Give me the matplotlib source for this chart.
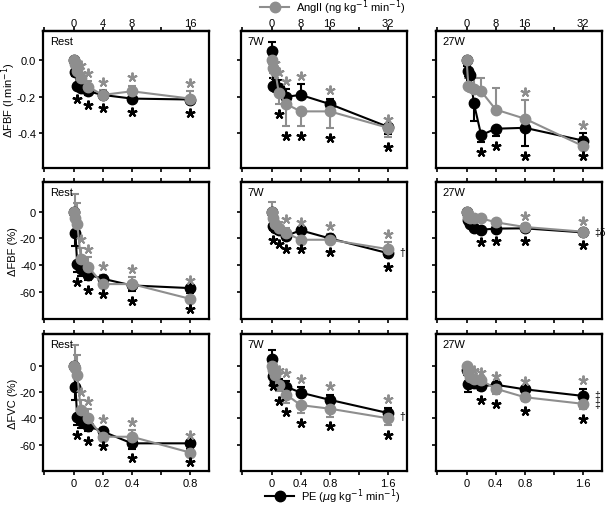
import numpy as np
import matplotlib.pyplot as plt
from matplotlib.lines import Line2D
import matplotlib.transforms as mtransforms

plt.rcParams['font.family'] = ['Liberation Sans', 'DejaVu Sans']
plt.rcParams['font.size'] = 8

GRAY = '#8e8e8e'
BLACK = '#000000'

# doses (AngII ng/kg/min); PE doses are AngII / 20
ang_doses_rest = [0, 0.25, 0.5, 1, 2, 4, 8, 16]
ang_doses_w = [0, 0.5, 1, 2, 4, 8, 16, 32]
pe_doses_rest = [d / 20 for d in ang_doses_rest]
pe_doses_w = [d / 20 for d in ang_doses_w]

groups = ["Rest", "7W", "27W"]
ylabels = ["\u0394FBF (l min$^{-1}$)", "\u0394FBF (%)", "\u0394FVC (%)"]

# ---- means (signed errors: + bar up, - bar down) ----
# row 0: dFBF (l/min)
fbf_ang_rest = [0, -0.02, -0.06, -0.10, -0.145, -0.19, -0.17, -0.21]
fbf_ang_rest_err = [0.01, 0.03, 0.03, 0.03, 0.03, 0.025, 0.03, 0.04]
fbf_pe_rest = [0, -0.065, -0.14, -0.15, -0.17, -0.19, -0.21, -0.215]
fbf_pe_rest_err = [-0.01, -0.02, -0.02, -0.02, -0.02, -0.02, -0.02, -0.02]

fbf_ang_7w = [0.0, -0.04, -0.06, -0.18, -0.24, -0.28, -0.28, -0.37]
fbf_ang_7w_err = [-0.02, -0.03, -0.04, -0.06, -0.12, -0.08, -0.09, -0.05]
fbf_pe_7w = [0.05, -0.14, -0.145, -0.15, -0.20, -0.19, -0.24, -0.365]
fbf_pe_7w_err = [0.05, 0.04, 0.04, 0.04, 0.04, 0.06, 0.03, -0.04]

fbf_ang_27w = [0.0, -0.14, -0.145, -0.155, -0.17, -0.27, -0.32, -0.47]
fbf_ang_27w_err = [0.02, 0.04, 0.05, 0.06, 0.075, 0.12, 0.10, 0.05]
fbf_pe_27w = [0.0, -0.06, -0.08, -0.235, -0.41, -0.375, -0.37, -0.44]
fbf_pe_27w_err = [-0.03, -0.03, -0.03, -0.10, -0.04, -0.04, -0.10, 0.04]

# row 1: dFBF (%)
fbfp_ang_rest = [0, -5, -9, -35, -41, -54, -54, -65]
fbfp_ang_rest_err = [2, 18, 15, 8, 7, 7, 5, 5]
fbfp_pe_rest = [0, -16, -39, -43, -47, -50, -55, -57]
fbfp_pe_rest_err = [-2, -10, -6, -5, -4, -4, -4, -4]

fbfp_ang_7w = [0, -5, -9, -12, -16, -21, -21, -28]
fbfp_ang_7w_err = [7, 3, 3, 4, 4, 4, 4, 5]
fbfp_pe_7w = [0, -11, -12, -14, -18, -14, -20, -31]
fbfp_pe_7w_err = [-3, -3, -3, -3, -3, -3, -3, -3]

fbfp_ang_27w = [0, -4, -5, -5, -5, -8, -11.5, -15]
fbfp_ang_27w_err = [2, 2, 2, 2, 2, 2, 2, 2]
fbfp_pe_27w = [0, -6, -9, -12, -13.5, -12.7, -12.5, -15.5]
fbfp_pe_27w_err = [-2, -2, -2, -2, -2, -2, -2, -2]

# row 2: dFVC (%)
fvc_ang_rest = [0, -2, -7, -34, -40, -54, -54, -66]
fvc_ang_rest_err = [2, 18, 15, 8, 7, 7, 5, 5]
fvc_pe_rest = [0, -16, -39, -42, -46, -50, -59, -59]
fvc_pe_rest_err = [-2, -10, -6, -5, -4, -4, -4, -4]

fvc_ang_7w = [0, -3, -7, -14.5, -22, -30, -32.7, -40]
fvc_ang_7w_err = [-3, -3, -4, -5, -6, -6, -6, -5]
fvc_pe_7w = [5, -8, -12.4, -14, -16, -20.5, -26, -36]
fvc_pe_7w_err = [7, 4, 4, 4, 4, 4, 4, 4]

fvc_ang_27w = [0, -5, -8.6, -10, -11, -17.5, -24, -29]
fvc_ang_27w_err = [-2, -2, -2, -2, -2, -4, -3, -4]
fvc_pe_27w = [-3.5, -13.7, -12, -13, -15.7, -14.5, -18, -23]
fvc_pe_27w_err = [-4, -6, -3, -3, -3, -3, -3, 5.5]

# significance stars (indices)
stars_ang = [
    [[3, 4, 5, 6, 7], [2, 3, 4, 5, 6, 7], [6, 7]],
    [[3, 4, 5, 6, 7], [4, 5, 6, 7], [6, 7]],
    [[3, 4, 5, 6, 7], [3, 4, 5, 6, 7], [2, 3, 4, 5, 6, 7]],
]
stars_pe = [
    [[2, 4, 5, 6, 7], [3, 4, 5, 6, 7], [4, 5, 6, 7]],
    [[2, 4, 5, 6, 7], [1, 3, 4, 5, 6, 7], [4, 5, 6, 7]],
    [[2, 4, 5, 6, 7], [1, 3, 4, 5, 6, 7], [4, 5, 6, 7]],
]
# extra symbols (row, col, text, y)
symbols = [(1, 1, "\u2020", -30), (1, 2, "\u2021\u03b4", -15),
           (2, 1, "\u2020", -38), (2, 2, "\u2021\n\u2021", -26)]

data = [
    [(fbf_ang_rest, fbf_ang_rest_err, fbf_pe_rest, fbf_pe_rest_err),
     (fbf_ang_7w, fbf_ang_7w_err, fbf_pe_7w, fbf_pe_7w_err),
     (fbf_ang_27w, fbf_ang_27w_err, fbf_pe_27w, fbf_pe_27w_err)],
    [(fbfp_ang_rest, fbfp_ang_rest_err, fbfp_pe_rest, fbfp_pe_rest_err),
     (fbfp_ang_7w, fbfp_ang_7w_err, fbfp_pe_7w, fbfp_pe_7w_err),
     (fbfp_ang_27w, fbfp_ang_27w_err, fbfp_pe_27w, fbfp_pe_27w_err)],
    [(fvc_ang_rest, fvc_ang_rest_err, fvc_pe_rest, fvc_pe_rest_err),
     (fvc_ang_7w, fvc_ang_7w_err, fvc_pe_7w, fvc_pe_7w_err),
     (fvc_ang_27w, fvc_ang_27w_err, fvc_pe_27w, fvc_pe_27w_err)],
]

ylims = [(-0.59, 0.16), (-80, 22), (-80, 24)]
yticks = [[-0.4, -0.2, 0.0], [-60, -40, -20, 0], [-60, -40, -20, 0]]
yticklabels = [["-0.4", "-0.2", "0.0"], ["-60", "-40", "-20", "0"], ["-60", "-40", "-20", "0"]]

W, H = 605, 506
lefts = [43, 241, 436]
tops = [32, 183, 335]
aw, ah = 166, 137

fig = plt.figure(figsize=(W / 100, H / 100), dpi=100)


def errbar(ax, x, y, e, color):
    e = np.array(e, dtype=float)
    lo = np.where(e < 0, -e, 0)
    hi = np.where(e > 0, e, 0)
    ax.errorbar(x, y, yerr=[lo, hi], fmt='none', ecolor=color, elinewidth=1.5,
                capsize=3, capthick=1.5, zorder=2)


for r in range(3):
    for c in range(3):
        ax = fig.add_axes([lefts[c] / W, 1 - (tops[r] + ah) / H, aw / W, ah / H])
        ang, ang_e, pe, pe_e = data[r][c]
        if c == 0:
            xa = np.array(ang_doses_rest)
            xp = np.array(pe_doses_rest) * 20
            xlim = (-4.2, 18.6)
            ticks = [-4, 0, 4, 8, 12, 16]
            top_lab = ["", "0", "4", "8", "", "16"]
            bot_lab = ["", "0", "0.2", "0.4", "", "0.8"]
        else:
            xa = np.array(ang_doses_w)
            xp = np.array(pe_doses_w) * 20
            xlim = (-8.4, 37.2)
            ticks = [-8, 0, 8, 16, 24, 32]
            top_lab = ["", "0", "8", "16", "", "32"]
            bot_lab = ["", "0", "0.4", "0.8", "", "1.6"]

        errbar(ax, xp, pe, pe_e, BLACK)
        ax.plot(xp, pe, '-o', color=BLACK, lw=1.5, ms=7.5, zorder=3)
        errbar(ax, xa, ang, ang_e, GRAY)
        ax.plot(xa, ang, '-o', color=GRAY, lw=1.5, ms=7.5, zorder=4)

        # stars above / below each dose cluster
        ang_a, pe_a = np.array(ang), np.array(pe)
        ae, pee = np.array(ang_e), np.array(pe_e)
        tops_v = np.maximum(ang_a + np.clip(ae, 0, None), pe_a + np.clip(pee, 0, None))
        bots_v = np.minimum(ang_a + np.clip(ae, None, 0), pe_a + np.clip(pee, None, 0))
        up = mtransforms.offset_copy(ax.transData, fig=fig, y=6, units='points')
        dn = mtransforms.offset_copy(ax.transData, fig=fig, y=-7, units='points')
        ia = stars_ang[r][c]
        ip = stars_pe[r][c]
        ax.plot(xa[ia], tops_v[ia], ls='none', marker=(5, 2, 0), ms=7, mew=1.4,
                color=GRAY, transform=up, zorder=5, clip_on=False)
        ax.plot(xp[ip], bots_v[ip], ls='none', marker=(5, 2, 0), ms=7, mew=1.6,
                color=BLACK, transform=dn, zorder=5, clip_on=False)

        for (sr, sc, txt, yv) in symbols:
            if sr == r and sc == c:
                ax.annotate(txt, (xa[-1], yv), xytext=(8, 0), textcoords='offset points',
                            ha='left', va='center', fontsize=7.5, linespacing=0.9)

        ax.set_xlim(*xlim)
        ax.set_ylim(*ylims[r])
        ax.set_xticks(ticks)
        ax.set_xticklabels(bot_lab if r == 2 else [""] * len(ticks))
        ax.set_yticks(yticks[r])
        if c == 0:
            ax.set_yticklabels(yticklabels[r])
            ax.set_ylabel(ylabels[r])
            ax.yaxis.set_label_coords(-0.15, 0.5)
        else:
            ax.set_yticklabels([])
        ax.tick_params(direction='out', length=3, width=1.2, pad=2)

        sec = ax.secondary_xaxis('top')
        sec.set_xticks(ticks)
        sec.set_xticklabels(top_lab if r == 0 else [""] * len(ticks))
        sec.tick_params(direction='out', length=3, width=1.2, pad=-1)
        sec.spines['top'].set_linewidth(1.6)

        for s in ax.spines.values():
            s.set_linewidth(1.6)

        ax.text(0.04, 0.96, groups[c], transform=ax.transAxes, ha='left', va='top')

# legends
h_ang = Line2D([], [], color=GRAY, marker='o', ms=7.5, lw=1.5)
h_pe = Line2D([], [], color=BLACK, marker='o', ms=7.5, lw=1.5)
fig.legend([h_ang], ["AngII (ng kg$^{-1}$ min$^{-1}$)"], loc='center',
           bbox_to_anchor=(333 / W, 1 - 8 / H), frameon=False, handlelength=2.6,
           handletextpad=0.6, borderpad=0)
fig.legend([h_pe], ["PE ($\\mu$g kg$^{-1}$ min$^{-1}$)"], loc='center',
           bbox_to_anchor=(333 / W, 1 - 497 / H), frameon=False, handlelength=2.6,
           handletextpad=0.6, borderpad=0)

fig.savefig("out.png", dpi=100)
